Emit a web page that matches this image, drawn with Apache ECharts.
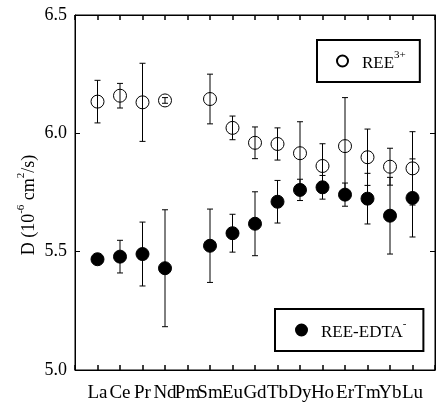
<!doctype html>
<html>
<head>
<meta charset="utf-8">
<title></title>
<script src="https://cdn.jsdelivr.net/npm/echarts@6/dist/echarts.min.js"></script>
</head>
<body style="margin:0">
<div id="chart" style="width: 445px; height: 412px;"></div>
<script>
// lanthanides, Pm has no measurement
var categories = ['La', 'Ce', 'Pr', 'Nd', 'Pm', 'Sm', 'Eu', 'Gd', 'Tb', 'Dy', 'Ho', 'Er', 'Tm', 'Yb', 'Lu'];
var reeValues = [6.134, 6.159, 6.131, 6.139, null, 6.145, 6.023, 5.960, 5.955, 5.916, 5.862, 5.946, 5.899, 5.859, 5.852];
var reeErrors = [0.090, 0.052, 0.165, 0.012, null, 0.105, 0.050, 0.067, 0.068, 0.133, 0.094, 0.205, 0.119, 0.078, 0.155];
var edtaValues = [5.468, 5.479, 5.490, 5.430, null, 5.525, 5.578, 5.618, 5.711, 5.761, 5.772, 5.741, 5.724, 5.652, 5.727];
var edtaErrors = [0.000, 0.069, 0.135, 0.247, null, 0.155, 0.080, 0.135, 0.090, 0.045, 0.050, 0.049, 0.107, 0.162, 0.165];
var yTicks = [5.0, 5.5, 6.0, 6.5];

var font = 'Liberation Serif';

function points(vals) {
    var out = [];
    vals.forEach(function (v, i) { if (v != null) out.push([i + 1, v]); });
    return out;
}
function bars(vals, errs) {
    var out = [];
    vals.forEach(function (v, i) { if (v != null && errs[i] > 0) out.push([i + 1, v - errs[i], v + errs[i]]); });
    return out;
}

function renderBar(params, api) {
    var x = api.value(0);
    var lo = api.coord([x, api.value(1)]);
    var hi = api.coord([x, api.value(2)]);
    var w = 3;
    var st = {stroke: '#000', lineWidth: 1};
    return {
        type: 'group',
        children: [
            {type: 'line', shape: {x1: lo[0], y1: lo[1], x2: hi[0], y2: hi[1]}, style: st},
            {type: 'line', shape: {x1: hi[0] - w, y1: hi[1], x2: hi[0] + w, y2: hi[1]}, style: st},
            {type: 'line', shape: {x1: lo[0] - w, y1: lo[1], x2: lo[0] + w, y2: lo[1]}, style: st}
        ]
    };
}

var richText = {
    g: {fontFamily: font, fontSize: 17, lineHeight: 22, verticalAlign: 'bottom', color: '#000', padding: [0, 0, 0, 9]},
    sup: {fontFamily: font, fontSize: 11, lineHeight: 12, verticalAlign: 'top', color: '#000'}
};

function xLine() { return {show: true, onZero: false, lineStyle: {color: '#000', width: 1}}; }
function xTick() { return {show: true, inside: true, length: 5, lineStyle: {color: '#000', width: 1.5}}; }
function yLine() { return {show: true, onZero: false, lineStyle: {color: '#000', width: 1}}; }
function yTick() { return {show: true, inside: true, length: 5, lineStyle: {color: '#000', width: 1}}; }

var chart = echarts.init(document.getElementById('chart'));
var option = {
    animation: false,
    grid: {left: 75, right: 10, top: 15, bottom: 42, show: true, borderColor: '#000', borderWidth: 1, backgroundColor: 'transparent'},
    xAxis: [
        {
            type: 'value', position: 'bottom', min: 0, max: categories.length + 1, interval: 1,
            axisLine: xLine(), axisTick: xTick(),
            splitLine: {show: false},
            axisLabel: {
                margin: 14, color: '#000', fontFamily: font, fontSize: 19,
                formatter: function (v) { return categories[v - 1] || ''; }
            }
        },
        {
            type: 'value', position: 'top', min: 0, max: categories.length + 1, interval: 1,
            axisLine: xLine(), axisTick: xTick(),
            splitLine: {show: false},
            axisLabel: {show: false}
        }
    ],
    yAxis: [
        {
            type: 'value', min: yTicks[0], max: yTicks[yTicks.length - 1], interval: 0.5,
            axisLine: yLine(), axisTick: yTick(),
            splitLine: {show: false},
            axisLabel: {
                margin: 8, color: '#000', fontFamily: font, fontSize: 18,
                formatter: function (v) { return v.toFixed(1); }
            }
        },
        {
            type: 'value', position: 'right', min: yTicks[0], max: yTicks[yTicks.length - 1], interval: 0.5,
            axisLine: yLine(), axisTick: yTick(),
            splitLine: {show: false},
            axisLabel: {show: false}
        }
    ],
    legend: [
        {
            data: ['REE3+'], left: 317, top: 40, orient: 'vertical',
            selectedMode: false,
            itemWidth: 11, itemHeight: 11,
            borderColor: '#000', borderWidth: 2,
            padding: [10, 14, 10, 19],
            formatter: function () { return '{g|REE}{sup|3+}'; },
            textStyle: {rich: richText}
        },
        {
            data: ['REE-EDTA'], left: 275, top: 309, orient: 'vertical',
            selectedMode: false,
            itemWidth: 11, itemHeight: 11,
            borderColor: '#000', borderWidth: 2,
            padding: [10, 17, 10, 20],
            formatter: function () { return '{g|REE-EDTA}{sup|-}'; },
            textStyle: {rich: richText}
        }
    ],
    graphic: [
        {
            type: 'text', x: 27, y: 205, rotation: Math.PI / 2,
            style: {
                text: '{n|D (10}{sup|-6}{n| cm}{sup|2}{n|/s)}',
                align: 'center', verticalAlign: 'middle',
                rich: {
                    n: {fontFamily: font, fontSize: 18, lineHeight: 22, verticalAlign: 'bottom', fill: '#000'},
                    sup: {fontFamily: font, fontSize: 11, lineHeight: 12, verticalAlign: 'top', fill: '#000'}
                }
            }
        }
    ],
    series: [
        {
            type: 'scatter', name: 'REE3+', symbol: 'circle', symbolSize: 13, z: 2,
            itemStyle: {color: '#fff', borderColor: '#000', borderWidth: 1, opacity: 1},
            data: points(reeValues)
        },
        {
            type: 'scatter', name: 'REE-EDTA', symbol: 'circle', symbolSize: 13, z: 2,
            itemStyle: {color: '#000', borderColor: '#000', borderWidth: 1, opacity: 1},
            data: points(edtaValues)
        },
        // error bars drawn over the markers, as in the original
        {
            type: 'custom', name: 'reeErr', renderItem: renderBar, z: 4,
            encode: {x: 0, y: [1, 2]}, data: bars(reeValues, reeErrors)
        },
        {
            type: 'custom', name: 'edtaErr', renderItem: renderBar, z: 4,
            encode: {x: 0, y: [1, 2]}, data: bars(edtaValues, edtaErrors)
        }
    ]
};
chart.setOption(option);
</script>
</body>
</html>
